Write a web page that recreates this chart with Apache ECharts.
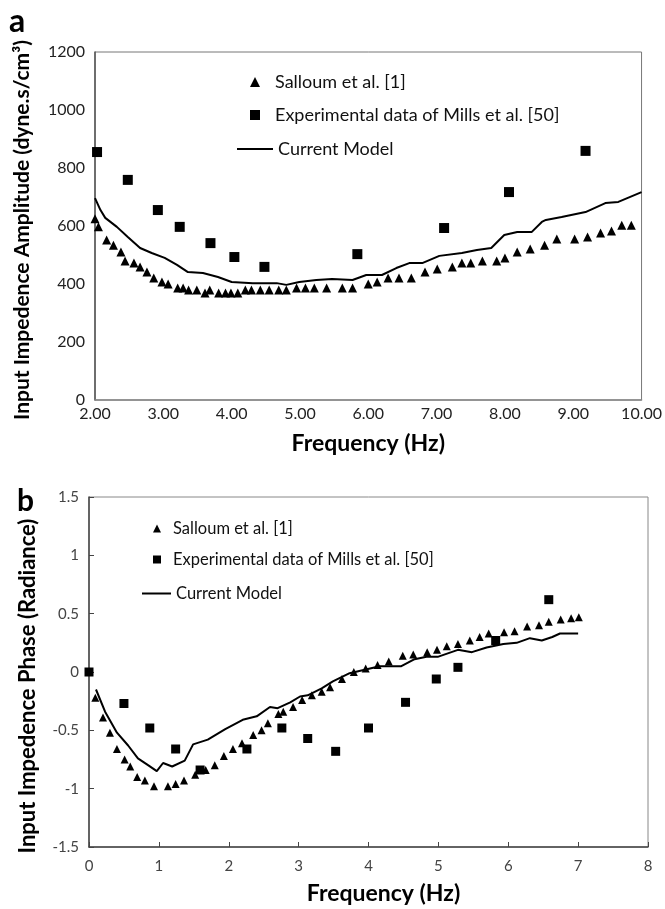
<!DOCTYPE html>
<html>
<head>
<meta charset="utf-8">
<script src="https://cdn.jsdelivr.net/npm/echarts@6/dist/echarts.min.js"></script>
<style>
  html, body { margin: 0; padding: 0; background: #fff; }
  #chartContainer { width: 665px; height: 909px; }
</style>
</head>
<body>
<div id="chartContainer"></div>
<script>
// panel a: amplitude
const salloumAFreq = [2.0, 2.05, 2.17, 2.27, 2.38, 2.44, 2.57, 2.66, 2.76, 2.86, 2.98, 3.07, 3.21, 3.29, 3.37, 3.49, 3.61, 3.68, 3.81, 3.91, 3.99, 4.09, 4.2, 4.29, 4.42, 4.55, 4.69, 4.8, 4.95, 5.08, 5.21, 5.39, 5.62, 5.77, 6.0, 6.13, 6.29, 6.45, 6.63, 6.83, 7.01, 7.23, 7.37, 7.5, 7.67, 7.88, 8.0, 8.18, 8.37, 8.58, 8.76, 9.02, 9.21, 9.4, 9.56, 9.71, 9.85];
const salloumAAmp = [625, 597, 552, 534, 510, 479, 472, 459, 441, 421, 407, 400, 386, 386, 379, 379, 369, 379, 369, 369, 369, 369, 379, 379, 379, 379, 379, 379, 386, 386, 386, 386, 386, 386, 400, 407, 421, 421, 421, 441, 452, 459, 472, 472, 479, 479, 490, 510, 521, 534, 555, 555, 562, 576, 583, 603, 603];
const millsAFreq = [2.03, 2.48, 2.92, 3.24, 3.69, 4.04, 4.48, 5.84, 7.11, 8.06, 9.18];
const millsAAmp = [855, 759, 655, 597, 541, 493, 459, 503, 593, 717, 859];
const modelAFreq = [2.0, 2.08, 2.15, 2.32, 2.48, 2.66, 2.83, 3.02, 3.2, 3.36, 3.58, 3.8, 4.0, 4.31, 4.66, 4.8, 4.99, 5.24, 5.47, 5.77, 5.97, 6.2, 6.41, 6.6, 6.79, 7.04, 7.37, 7.59, 7.8, 7.99, 8.18, 8.39, 8.54, 8.6, 8.83, 9.18, 9.47, 9.66, 10.0];
const modelAAmp = [696, 655, 628, 597, 562, 524, 507, 490, 466, 441, 438, 424, 407, 403, 403, 397, 407, 414, 417, 414, 431, 431, 455, 472, 472, 497, 507, 517, 524, 569, 579, 579, 614, 621, 631, 648, 679, 683, 717];

// panel b: phase
const salloumBFreq = [0.09, 0.2, 0.3, 0.4, 0.51, 0.59, 0.69, 0.8, 0.93, 1.13, 1.24, 1.36, 1.52, 1.67, 1.8, 1.93, 2.06, 2.19, 2.35, 2.47, 2.56, 2.71, 2.78, 2.92, 3.05, 3.19, 3.33, 3.45, 3.62, 3.79, 3.96, 4.13, 4.29, 4.49, 4.64, 4.84, 4.98, 5.12, 5.28, 5.45, 5.59, 5.72, 5.94, 6.09, 6.27, 6.44, 6.58, 6.75, 6.9, 7.01];
const salloumBPhase = [-0.22, -0.39, -0.52, -0.66, -0.75, -0.81, -0.9, -0.93, -0.98, -0.98, -0.96, -0.93, -0.88, -0.84, -0.8, -0.72, -0.66, -0.61, -0.54, -0.5, -0.44, -0.36, -0.34, -0.3, -0.24, -0.2, -0.17, -0.13, -0.06, 0.0, 0.03, 0.06, 0.09, 0.14, 0.15, 0.17, 0.19, 0.22, 0.24, 0.27, 0.3, 0.33, 0.34, 0.35, 0.39, 0.4, 0.43, 0.45, 0.46, 0.47];
const millsBFreq = [0, 0.5, 0.87, 1.24, 1.59, 2.26, 2.76, 3.13, 3.53, 4.0, 4.53, 4.97, 5.28, 5.82, 6.58];
const millsBPhase = [0, -0.27, -0.48, -0.66, -0.84, -0.66, -0.48, -0.57, -0.68, -0.48, -0.26, -0.06, 0.04, 0.27, 0.62];
const modelBFreq = [0.1, 0.23, 0.4, 0.56, 0.7, 0.85, 0.97, 1.06, 1.19, 1.37, 1.49, 1.7, 1.95, 2.2, 2.4, 2.59, 2.7, 2.88, 3.02, 3.13, 3.33, 3.49, 3.73, 4.16, 4.47, 4.66, 4.83, 4.99, 5.28, 5.48, 5.69, 5.93, 6.12, 6.31, 6.48, 6.63, 6.74, 6.88, 7.0];
const modelBPhase = [-0.15, -0.34, -0.52, -0.63, -0.74, -0.8, -0.85, -0.78, -0.81, -0.76, -0.62, -0.58, -0.49, -0.41, -0.38, -0.3, -0.31, -0.26, -0.21, -0.2, -0.14, -0.08, -0.01, 0.05, 0.05, 0.11, 0.13, 0.13, 0.19, 0.17, 0.21, 0.24, 0.25, 0.29, 0.27, 0.3, 0.33, 0.33, 0.33];

const nameSalloum = 'Salloum et al. [1]';
const nameMills = 'Experimental data of Mills et al. [50]';
const nameModel = 'Current Model';

const FONT = 'Lato';

function zip(xs, ys) {
    return xs.map((x, i) => [x, ys[i]]);
}

function makeLegend(name, left, top, w, h, fontSize, pad, icon) {
    return {
        data: [icon ? { name: name, icon: icon } : name],
        left: left,
        top: top,
        itemWidth: w,
        itemHeight: h,
        selectedMode: false,
        padding: 0,
        textStyle: {
            fontFamily: FONT,
            fontSize: fontSize,
            color: '#111',
            padding: [0, 0, 0, pad]
        }
    };
}

const chart = echarts.init(document.getElementById('chartContainer'));

chart.setOption({
    backgroundColor: '#fff',
    animation: false,
    title: [
        { text: 'a', left: 9, top: 6, padding: 0, textStyle: { fontFamily: FONT, fontSize: 32, fontWeight: 'bold', color: '#000' } },
        { text: 'b', left: 17, top: 486, padding: 0, textStyle: { fontFamily: FONT, fontSize: 30, fontWeight: 'bold', color: '#000' } }
    ],
    legend: [
        makeLegend(nameSalloum, 250, 73, 10, 10, 18, 10),
        makeLegend(nameMills, 250, 106, 10, 10, 18, 10),
        makeLegend(nameModel, 237, 140, 36, 2, 18, 0, 'rect'),
        makeLegend(nameSalloum + ' ', 153, 520, 8, 8, 16.5, 7),
        makeLegend(nameMills + ' ', 153, 551, 8, 8, 16.5, 7),
        makeLegend(nameModel + ' ', 142, 585, 29, 2, 16.5, 0, 'rect')
    ],
    grid: [
        { left: 95, top: 52, width: 548, height: 348, show: true, borderColor: '#777', borderWidth: 1 },
        { left: 89, top: 497, width: 559, height: 350, show: true, borderColor: '#888', borderWidth: 1 }
    ],
    xAxis: [
        {
            gridIndex: 0,
            type: 'value',
            min: 2,
            max: 10,
            interval: 1,
            name: 'Frequency (Hz)',
            nameLocation: 'middle',
            nameGap: 32,
            nameTextStyle: { fontFamily: FONT, fontSize: 23, fontWeight: 'bold', color: '#000' },
            axisLine: { onZero: false, lineStyle: { color: '#888', width: 1.5 } },
            axisTick: { show: false },
            axisLabel: { fontFamily: FONT, fontSize: 16, color: '#222', margin: 6, formatter: v => v.toFixed(2) },
            splitLine: { show: false }
        },
        {
            gridIndex: 1,
            type: 'value',
            min: 0,
            max: 8,
            interval: 1,
            name: 'Frequency (Hz)',
            nameLocation: 'middle',
            nameGap: 35,
            nameTextStyle: { fontFamily: FONT, fontSize: 23, fontWeight: 'bold', color: '#000', padding: [0, 0, 0, 30] },
            axisLine: { onZero: false, lineStyle: { color: '#444', width: 1.5 } },
            axisTick: { show: true, inside: true, length: 5, lineStyle: { color: '#444' } },
            axisLabel: { fontFamily: FONT, fontSize: 15, color: '#444', margin: 12 },
            splitLine: { show: false }
        }
    ],
    yAxis: [
        {
            gridIndex: 0,
            type: 'value',
            min: 0,
            max: 1200,
            interval: 200,
            name: 'Input Impedence Amplitude (dyne.s/cm³)',
            nameLocation: 'middle',
            nameGap: 62,
            nameTextStyle: { fontFamily: FONT, fontSize: 21, fontWeight: 'bold', color: '#000', padding: [0, 8, 0, 0] },
            axisLine: { show: true, onZero: false, lineStyle: { color: '#555', width: 1.5 } },
            axisTick: { show: false },
            axisLabel: { fontFamily: FONT, fontSize: 16, color: '#222', margin: 10, formatter: v => String(v) },
            splitLine: { show: false }
        },
        {
            gridIndex: 1,
            type: 'value',
            min: -1.5,
            max: 1.5,
            interval: 0.5,
            name: 'Input Impedence Phase (Radiance)',
            nameLocation: 'middle',
            nameGap: 50,
            nameTextStyle: { fontFamily: FONT, fontSize: 22, fontWeight: 'bold', color: '#000', padding: [0, 28, 0, 0] },
            axisLine: { show: true, onZero: false, lineStyle: { color: '#444', width: 1.5 } },
            axisTick: { show: true, inside: true, length: 5, lineStyle: { color: '#444' } },
            axisLabel: { fontFamily: FONT, fontSize: 15, color: '#444', margin: 10 },
            splitLine: { show: false }
        }
    ],
    series: [
        {
            name: nameModel,
            type: 'line',
            xAxisIndex: 0,
            yAxisIndex: 0,
            data: zip(modelAFreq, modelAAmp),
            symbol: 'none',
            lineStyle: { color: '#000', width: 2 },
            itemStyle: { color: '#000' },
            z: 2
        },
        {
            name: nameSalloum,
            type: 'scatter',
            xAxisIndex: 0,
            yAxisIndex: 0,
            data: zip(salloumAFreq, salloumAAmp),
            symbol: 'triangle',
            symbolSize: 9,
            itemStyle: { color: '#000', opacity: 1 },
            z: 3
        },
        {
            name: nameMills,
            type: 'scatter',
            xAxisIndex: 0,
            yAxisIndex: 0,
            data: zip(millsAFreq, millsAAmp),
            symbol: 'rect',
            symbolSize: 10,
            itemStyle: { color: '#000', opacity: 1 },
            z: 3
        },
        {
            name: nameModel + ' ',
            type: 'line',
            xAxisIndex: 1,
            yAxisIndex: 1,
            data: zip(modelBFreq, modelBPhase),
            symbol: 'none',
            lineStyle: { color: '#000', width: 2 },
            itemStyle: { color: '#000' },
            z: 2
        },
        {
            name: nameSalloum + ' ',
            type: 'scatter',
            xAxisIndex: 1,
            yAxisIndex: 1,
            data: zip(salloumBFreq, salloumBPhase),
            symbol: 'triangle',
            symbolSize: 8,
            itemStyle: { color: '#000', opacity: 1 },
            z: 3
        },
        {
            name: nameMills + ' ',
            type: 'scatter',
            xAxisIndex: 1,
            yAxisIndex: 1,
            data: zip(millsBFreq, millsBPhase),
            symbol: 'rect',
            symbolSize: 9,
            itemStyle: { color: '#000', opacity: 1 },
            z: 3
        }
    ]
});
</script>
</body>
</html>
